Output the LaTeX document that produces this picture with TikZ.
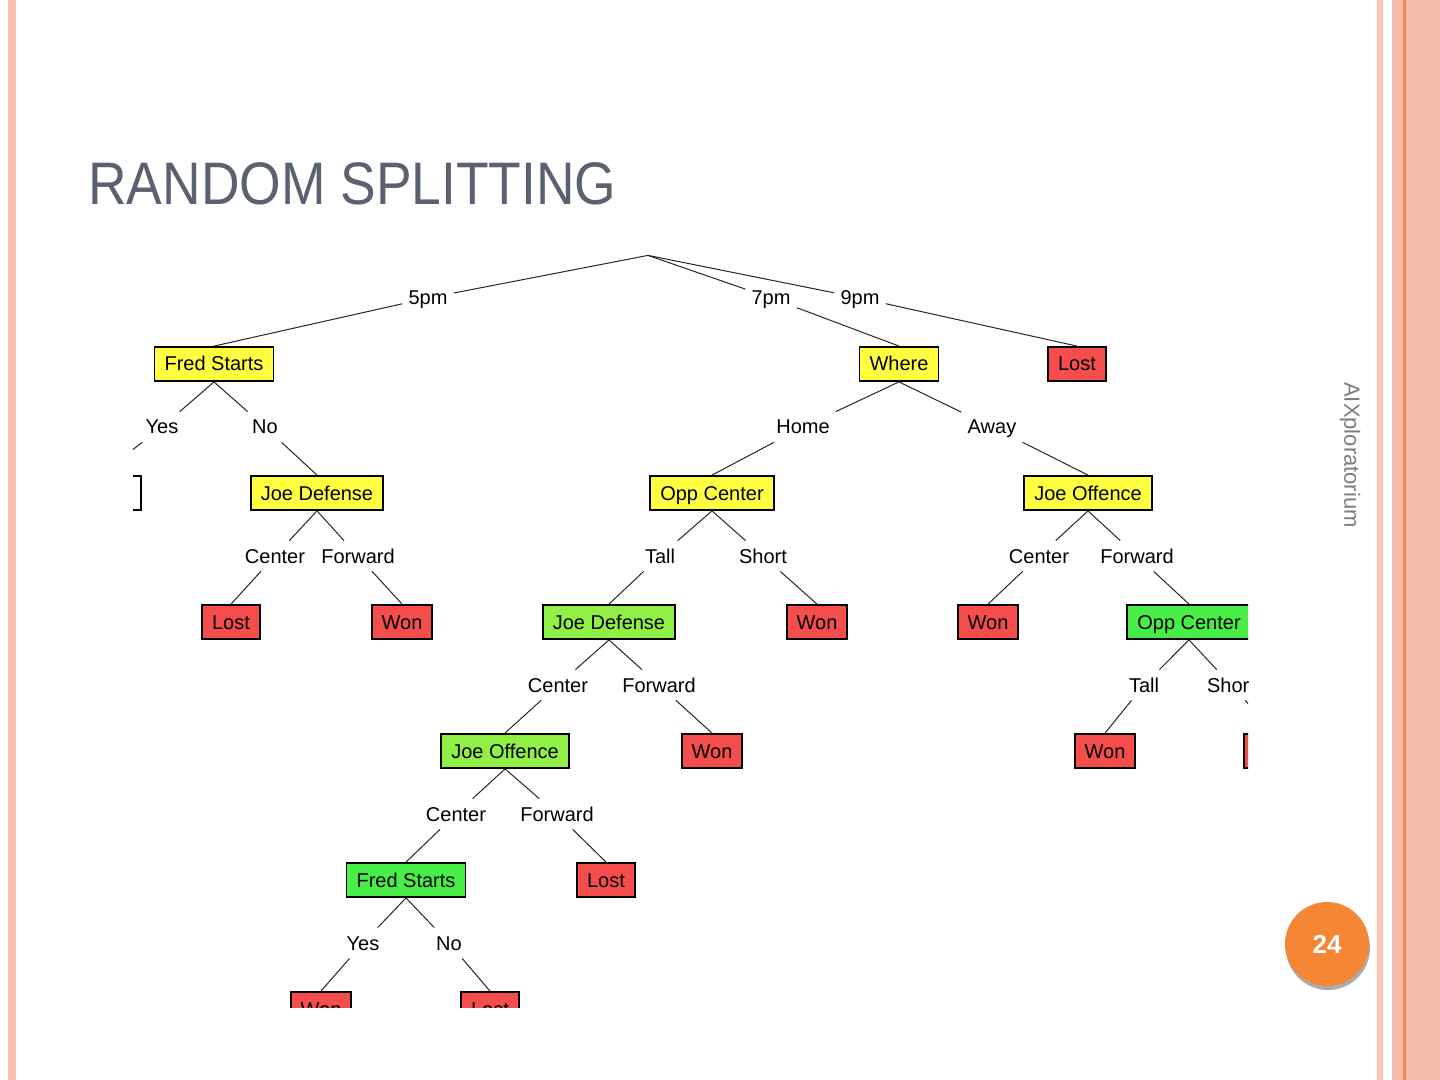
\documentclass[tikz,border=0pt]{standalone}
\usepackage{fontspec}
\setmainfont{Liberation Sans}
\definecolor{treeyellow}{RGB}{255,255,64}
\definecolor{treered}{RGB}{245,76,76}
\definecolor{treelime}{RGB}{145,240,70}
\definecolor{treegreen}{RGB}{70,238,70}
\definecolor{leftpink}{RGB}{255,190,172}
\definecolor{rightpink}{RGB}{255,198,182}
\definecolor{bandpink}{RGB}{242,189,170}
\definecolor{bandline}{RGB}{239,138,80}
\definecolor{pageorange}{RGB}{245,134,52}
\definecolor{titlegray}{RGB}{90,97,112}
\definecolor{sidegray}{RGB}{125,125,125}

\begin{document}
\begin{tikzpicture}[
x=0.5pt,y=-0.5pt,
mybox/.style={
rectangle,
draw=black,
line width=0.9pt,
font=\fontsize{10}{12}\selectfont,
text height=8pt,
text depth=1pt,
inner xsep=5pt,
minimum height=17pt},
myyellow/.style={mybox,fill=treeyellow},
myred/.style={mybox,fill=treered},
mylime/.style={mybox,fill=treelime},
mygreen/.style={mybox,fill=treegreen},
mywhite/.style={mybox,fill=white},
mylabel/.style={
font=\fontsize{10}{12}\selectfont,
text height=8pt,
text depth=1pt,
inner sep=3pt},
myline/.style={black!85,line width=0.5pt}
]
\useasboundingbox (0,0) rectangle (1440,1080);
\fill[white] (0,0) rectangle (1440,1080);
\fill[leftpink] (8,0) rectangle (16,1080);
\fill[rightpink] (1377,0) rectangle (1383,1080);
\fill[bandpink] (1392,0) rectangle (1440,1080);
\fill[bandline] (1403,0) rectangle (1406,1080);

\node[anchor=base west, inner sep=0pt, text=titlegray,
      font=\fontsize{30}{36}\selectfont, xscale=0.89] (title) at (88,205) {RANDOM SPLITTING};
\node[rotate=-90, text=sidegray, font=\fontsize{11}{13}\selectfont] (side) at (1350,455) {AIXploratorium};
\node[circle, fill=gray!65, minimum size=42pt] (shadow) at (1328,948) {};
\node[circle, fill=pageorange, minimum size=42pt, text=white,
      font=\bfseries\fontsize{13}{15}\selectfont] (num) at (1327,944) {24};

\begin{scope}
\clip (133,250) rectangle (1248,1007);
\node[inner sep=0pt] (b0) at (648,254) {};
      \node[myyellow] (b1) at (214,364) {Fred Starts};
      \node[myyellow] (b2) at (899,364) {Where};
      \node[myred] (b3) at (1077,364) {Lost};
      \node[mywhite, minimum width=41pt] (b4) at (100,493) {};
      \node[myyellow] (b5) at (317,493) {Joe Defense};
      \node[myyellow] (b6) at (712,493) {Opp Center};
      \node[myyellow] (b7) at (1088,493) {Joe Offence};
      \node[myred] (b8) at (231,622) {Lost};
      \node[myred] (b9) at (402,622) {Won};
      \node[mylime] (b10) at (609,622) {Joe Defense};
      \node[myred] (b11) at (817,622) {Won};
      \node[myred] (b12) at (988,622) {Won};
      \node[mygreen] (b13) at (1189,622) {Opp Center};
      \node[mylime] (b14) at (505,751) {Joe Offence};
      \node[myred] (b15) at (712,751) {Won};
      \node[myred] (b16) at (1105,751) {Won};
      \node[myred, minimum width=31pt] (b17) at (1275,751) {};
      \node[mygreen] (b18) at (406,880) {Fred Starts};
      \node[myred] (b19) at (606,880) {Lost};
      \node[myred] (b20) at (321,1009) {Won};
      \node[myred] (b21) at (490,1009) {Lost};
      \foreach \n/\x/\y/\txt in {
      t1/428/298/5pm, t2/771/298/7pm, t3/860/298/9pm,
      t4/162/427/Yes, t5/265/427/No, t6/803/427/Home, t7/992/427/Away,
      t8/275/556/Center, t9/358/556/Forward, t10/660/556/Tall,
      t11/763/556/Short, t12/1039/556/Center, t13/1137/556/Forward,
      t14/558/685/Center, t15/659/685/Forward, t16/1144/685/Tall, t17/1231/685/Short,
      t18/456/814/Center, t19/557/814/Forward,
      t20/363/943/Yes, t21/449/943/No}
       \node[mylabel] (\n) at (\x,\y) {\txt};
      \foreach \i/\j/\k in {
      b0/t1/b1, b0/t2/b2, b0/t3/b3,
      b1/t4/b4, b1/t5/b5, b2/t6/b6, b2/t7/b7,
      b5/t8/b8, b5/t9/b9, b6/t10/b10, b6/t11/b11, b7/t12/b12, b7/t13/b13,
      b10/t14/b14, b10/t15/b15, b13/t16/b16, b13/t17/b17,
      b14/t18/b18, b14/t19/b19, b18/t20/b20, b18/t21/b21}
       \draw[myline] (\i.south) -- (\j) -- (\k.north);
\end{scope}
\end{tikzpicture}
\end{document}
